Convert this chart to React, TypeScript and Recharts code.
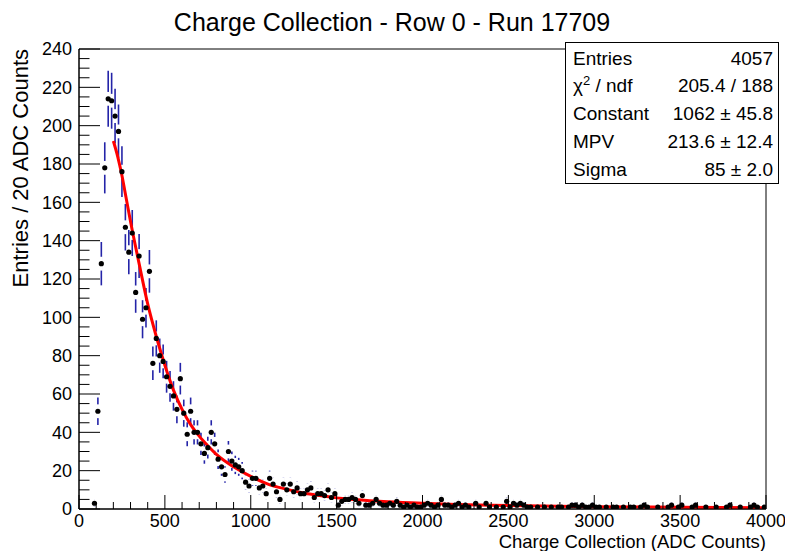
import React from "react";
import {
  ComposedChart,
  Scatter,
  Line,
  XAxis,
  YAxis,
  ErrorBar,
  ReferenceArea,
} from "recharts";

// histogram: 200 bins of 20 ADC counts, from 0 to 4000
const BIN_WIDTH = 20;
const counts = [
  0, 0, 0, 0, 3, 51, 128, 178, 214, 213,
  205, 197, 176, 147, 134, 144, 113, 132, 99, 105,
  124, 76, 89, 80, 77, 69, 64, 59, 52, 68,
  50, 39, 51, 40, 40, 34, 29, 32, 40, 34,
  26, 22, 18, 30, 25, 23, 22, 20, 14, 12,
  16, 16, 11, 12, 8, 16, 13, 9, 5, 13,
  10, 13, 9, 11, 8, 8, 10, 11, 6, 8,
  8, 7, 10, 6, 8, 2, 4, 5, 5, 6,
  5, 3, 7, 2, 2, 3, 5, 3, 2, 2,
  3, 2, 4, 2, 1, 2, 1, 2, 1, 1,
  2, 3, 2, 1, 2, 5, 2, 2, 1, 2,
  3, 1, 2, 1, 0, 3, 1, 0, 3, 1,
  0, 1, 0, 1, 4, 1, 3, 2, 3, 2,
  1, 1, 0, 1, 0, 1, 0, 1, 0, 1,
  1, 0, 1, 2, 2, 1, 2, 1, 1, 2,
  1, 1, 0, 1, 0, 1, 1, 0, 1, 0,
  1, 1, 0, 1, 2, 1, 0, 0, 1, 0,
  0, 1, 2, 0, 1, 2, 0, 0, 1, 2,
  0, 0, 1, 0, 0, 1, 0, 0, 1, 2,
  0, 0, 1, 0, 0, 1, 2, 1, 0, 1,
];

// landau fit as drawn
const fitX = [200, 225, 250, 275, 300, 350, 400, 450, 500, 550, 600, 650, 700, 750, 800, 900, 1000, 1100, 1200, 1300, 1400, 1500, 1600, 1800, 2000, 2200, 2400, 2700, 3000, 3500, 4000];
const fitY = [192, 184, 174, 162, 150, 128, 107, 90, 75, 62, 52, 44, 38, 33, 28.5, 22, 17, 13, 10.5, 8.5, 7, 5.8, 5, 3.8, 3, 2.4, 2, 1.6, 1.2, 0.9, 0.6];

const xMajor = [0, 500, 1000, 1500, 2000, 2500, 3000, 3500, 4000];
const yMajor = [0, 20, 40, 60, 80, 100, 120, 140, 160, 180, 200, 220, 240];

const statsRows = [
  ["Entries", "4057"],
  ["chi2", "205.4 / 188"],
  ["Constant", "1062 \u00b1 45.8"],
  ["MPV", "213.6 \u00b1 12.4"],
  ["Sigma", "85 \u00b1 2.0"],
];

const histData = counts
  .map((n, i) => ({ x: i * BIN_WIDTH + BIN_WIDTH / 2, y: n, err: Math.sqrt(n) }))
  .filter((d) => d.y > 0);
const fitData = fitX.map((x, i) => ({ x, y: fitY[i] }));

const xTicks: number[] = [];
for (let v = 0; v <= 4000; v += 100) xTicks.push(v);
const yTicks: number[] = [];
for (let v = 0; v <= 240; v += 5) yTicks.push(v);

const FONT = "'Liberation Sans', Arial, Helvetica, sans-serif";
const BLUE = "#2424a8";
const MARKER_GAP = 3.6; // y units hidden round each marker (~7px)
const Y_MARGIN = 7;
const X_MARGIN = 2;

function YTick(props: any) {
  const { x, y, payload } = props;
  const axisX = x + Y_MARGIN;
  const major = yMajor.includes(payload.value);
  return (
    <g>
      <line x1={axisX} x2={axisX + (major ? 21 : 10.5)} y1={y} y2={y} stroke="#000" />
      {major && (
        <text x={x} y={y} dy="0.36em" textAnchor="end" fontSize={18} fontFamily={FONT} fill="#000">
          {payload.value}
        </text>
      )}
    </g>
  );
}

function XTick(props: any) {
  const { x, y, payload } = props;
  const axisY = y - X_MARGIN;
  const major = xMajor.includes(payload.value);
  return (
    <g>
      <line x1={x} x2={x} y1={axisY} y2={axisY - (major ? 14 : 7)} stroke="#000" />
      {major && (
        <text x={x} y={axisY + 18} textAnchor="middle" fontSize={18} fontFamily={FONT} fill="#000">
          {payload.value}
        </text>
      )}
    </g>
  );
}

export default function App() {
  return (
    <div style={{ position: "relative", width: 785, height: 551, background: "#fff" }}>
      <style>{"body{margin:0}"}</style>
      <ComposedChart
        width={785}
        height={551}
        margin={{ top: 49, right: 19, bottom: 0, left: 0 }}
      >
        <XAxis
          dataKey="x"
          type="number"
          domain={[0, 4000]}
          ticks={xTicks}
          interval={0}
          height={42}
          tickSize={0}
          tickMargin={X_MARGIN}
          tickLine={false}
          axisLine={{ stroke: "#000" }}
          tick={(p: any) => <XTick {...p} />}
          allowDataOverflow
        />
        <YAxis
          type="number"
          domain={[0, 240]}
          ticks={yTicks}
          interval={0}
          width={79}
          tickSize={0}
          tickMargin={Y_MARGIN}
          tickLine={false}
          axisLine={{ stroke: "#000" }}
          tick={(p: any) => <YTick {...p} />}
          allowDataOverflow
        />
        <ReferenceArea x1={0} x2={4000} y1={0} y2={240} fill="none" stroke="#000" strokeWidth={1} fillOpacity={0} />
        <Scatter
          data={histData}
          dataKey="y"
          isAnimationActive={false}
          shape={(p: any) => <circle cx={p.cx} cy={p.cy} r={2.6} fill="#000" />}
        >
          <ErrorBar dataKey="err" direction="y" width={0} stroke={BLUE} strokeWidth={1.6} />
          <ErrorBar
            dataKey={(d: any) => Math.min(d.err, MARKER_GAP)}
            direction="y"
            width={0}
            stroke="#fff"
            strokeWidth={3}
          />
        </Scatter>
        <Line
          data={fitData}
          dataKey="y"
          type="monotone"
          stroke="#ff0000"
          strokeWidth={3}
          dot={false}
          activeDot={false}
          isAnimationActive={false}
        />
      </ComposedChart>

      <svg
        width={785}
        height={551}
        style={{ position: "absolute", left: 0, top: 0, pointerEvents: "none" }}
        fontFamily={FONT}
      >
        <text x={392} y={31} textAnchor="middle" fontSize={25}>
          Charge Collection - Row 0 - Run 17709
        </text>
        <text transform="translate(28,49) rotate(-90)" textAnchor="end" fontSize={22}>
          Entries / 20 ADC Counts
        </text>
        <text x={766} y={548} textAnchor="end" fontSize={18.5}>
          Charge Collection (ADC Counts)
        </text>

        <rect x={565.5} y={42.5} width={213} height={141} fill="#fff" stroke="#000" />
        {statsRows.map(([name, val], i) => (
          <g key={name} fontSize={19}>
            <text x={573} y={64.5 + i * 27.8}>
              {name === "chi2" ? (
                <>
                  {"\u03c7"}
                  <tspan dy={-7} fontSize={13}>2</tspan>
                  <tspan dy={7}>{" / ndf"}</tspan>
                </>
              ) : (
                name
              )}
            </text>
            <text x={773} y={64.5 + i * 27.8} textAnchor="end">
              {val}
            </text>
          </g>
        ))}
      </svg>
    </div>
  );
}
